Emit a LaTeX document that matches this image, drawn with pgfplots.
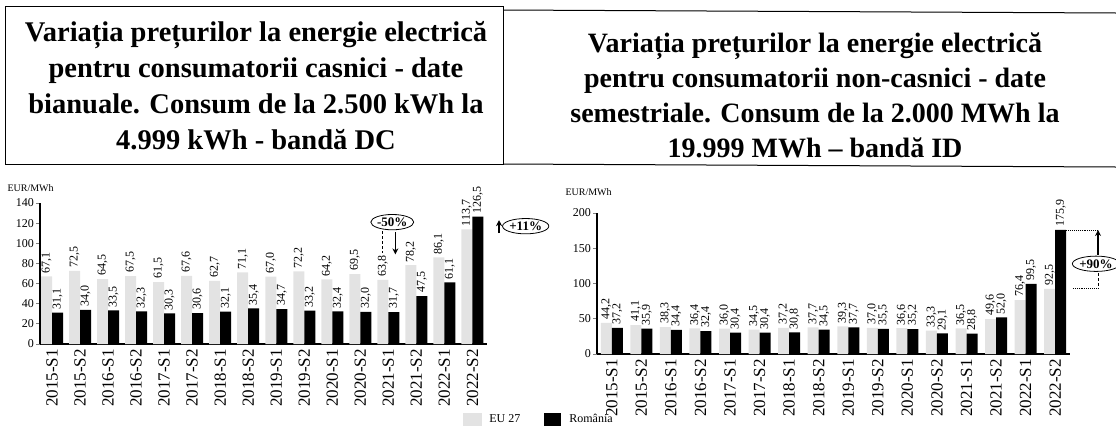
\documentclass[border=0pt]{standalone}
\usepackage{pgfplots}
\pgfplotsset{compat=1.18}
\usepackage{pgfplotstable}
\usepackage{fontspec}
\setmainfont{Liberation Serif}
\usetikzlibrary{shapes.geometric, arrows.meta}
\definecolor{eugray}{gray}{0.89}

% casnici (banda DC), EUR/MWh
\pgfplotstableread{
idx EU RO
0 67.1 31.1
1 72.5 34.0
2 64.5 33.5
3 67.5 32.3
4 61.5 30.3
5 67.6 30.6
6 62.7 32.1
7 71.1 35.4
8 67.0 34.7
9 72.2 33.2
10 64.2 32.4
11 69.5 32.0
12 63.8 31.7
13 78.2 47.5
14 86.1 61.1
15 113.7 126.5
}\casnici

% non-casnici (banda ID), EUR/MWh
\pgfplotstableread{
idx EU RO
0 44.2 37.2
1 41.1 35.9
2 38.3 34.4
3 36.4 32.4
4 36.0 30.4
5 34.5 30.4
6 37.2 30.8
7 37.7 34.5
8 39.3 37.7
9 37.0 35.5
10 36.6 35.2
11 33.3 29.1
12 36.5 28.8
13 49.6 52.0
14 76.4 99.5
15 92.5 175.9
}\noncasnici

\pgfplotsset{
  /pgf/number format/assume math mode=true,
  semestre/.style={
    scale only axis, ybar=0pt, bar width=11pt,
    axis lines*=left, axis line style={line width=1.1pt},
    ymin=0, clip=false,
    xtick={0,...,15},
    xticklabels={2015-S1,2015-S2,2016-S1,2016-S2,2017-S1,2017-S2,2018-S1,2018-S2,
      2019-S1,2019-S2,2020-S1,2020-S2,2021-S1,2021-S2,2022-S1,2022-S2},
    xtick style={draw=none},
    xticklabel style={rotate=90, anchor=east, inner sep=1pt, font=\fontsize{17}{17}\selectfont},
    yticklabel style={font=\fontsize{12}{12}\selectfont, inner sep=2pt},
    ytick style={line width=0.8pt}, tick align=outside, major tick length=4pt,
    nodes near coords={\pgfmathprintnumber[fixed,fixed zerofill,precision=1,use comma]{\pgfplotspointmeta}},
    every node near coord/.append style={rotate=90, anchor=west, inner xsep=3pt, inner ysep=0pt,
      font=\fontsize{12}{12}\selectfont, text=black},
  },
  eubar/.style={fill=eugray, draw=none,
    legend image code/.code={\fill[eugray] (0pt,-6.5pt) rectangle (19pt,6.5pt);}},
  robar/.style={fill=black, draw=none,
    legend image code/.code={\fill[black] (0pt,-6.5pt) rectangle (17pt,6.5pt);}},
}

\begin{document}
\begin{tikzpicture}
\useasboundingbox (0pt,0pt) rectangle (1116pt,-429pt);

% title table
\draw[line width=1pt] (5pt,-6pt) rectangle (503pt,-164pt);
\draw[line width=1pt] (503pt,-10pt) -- (1116pt,-13pt);
\draw[line width=1pt] (503pt,-164pt) -- (1116pt,-167pt);
\node[align=center, font=\bfseries\fontsize{28.5}{36}\selectfont] at (256pt,-86pt)
  {Variația prețurilor la energie electrică\\pentru consumatorii casnici - date\\
   bianuale. Consum de la 2.500 kWh la\\4.999 kWh - bandă DC};
\node[align=center, font=\bfseries\fontsize{28}{35}\selectfont] at (815pt,-95pt)
  {Variația prețurilor la energie electrică\\pentru consumatorii non-casnici - date\\
   semestriale. Consum de la 2.000 MWh la\\19.999 MWh – bandă ID};

\node[anchor=west, font=\fontsize{10}{10}\selectfont] at (4pt,-188pt) {EUR/MWh};
\node[anchor=west, font=\fontsize{10}{10}\selectfont] at (562pt,-192pt) {EUR/MWh};

% left chart
\begin{axis}[semestre, at={(40pt,-344pt)}, anchor=south west,
    width=447pt, height=141pt, xmin=-0.43, xmax=15.52,
    ymax=140, ytick={0,20,...,140},
    legend columns=2,
    legend style={at={(0.94,-0.47)}, anchor=north west, draw=none, fill=none,
      font=\fontsize{12}{12}\selectfont,
      /tikz/every even column/.append style={column sep=22pt}}]
  \addplot[eubar] table[x=idx, y=EU] {\casnici};
  \addplot[robar] table[x=idx, y=RO] {\casnici};
  \legend{\hspace{5pt}EU 27, \hspace{6pt}România}
  \node[draw, ellipse, line width=0.8pt, inner xsep=0pt, inner ysep=1pt,
    font=\bfseries\fontsize{13}{13}\selectfont] at (axis cs:12.14,121) {-50\%};
  \draw[densely dashed, line width=0.6pt] (axis cs:11.8,112) -- (axis cs:11.8,90);
  \draw[-{Stealth[length=6pt,width=6pt]}, line width=1.2pt] (axis cs:12.25,111) -- (axis cs:12.25,89);
  \node[draw, ellipse, line width=0.8pt, inner xsep=0pt, inner ysep=1pt,
    font=\bfseries\fontsize{13}{13}\selectfont] at (axis cs:16.9,117) {+11\%};
  \draw[-{Stealth[length=6pt,width=6pt]}, line width=1.2pt] (axis cs:15.95,110) -- (axis cs:15.95,123);
\end{axis}

% right chart
\begin{axis}[semestre, at={(597pt,-354pt)}, anchor=south west,
    width=473pt, height=141pt, xmin=-0.5, xmax=15.5,
    ymax=200, ytick={0,50,...,200}]
  \addplot[eubar] table[x=idx, y=EU] {\noncasnici};
  \addplot[robar] table[x=idx, y=RO] {\noncasnici};
  \draw[densely dotted, line width=0.9pt] (axis cs:15.25,175.9) -- (axis cs:16.45,175.9);
  \draw[-{Stealth[length=6pt,width=6pt]}, line width=1.2pt] (axis cs:16.45,141) -- (axis cs:16.45,175.9);
  \node[draw, ellipse, line width=0.8pt, inner xsep=0pt, inner ysep=1pt,
    font=\bfseries\fontsize{13}{13}\selectfont] at (axis cs:16.38,128) {+90\%};
  \draw[densely dashed, line width=0.7pt] (axis cs:16.45,115) -- (axis cs:16.45,92.5);
  \draw[densely dotted, line width=0.9pt] (axis cs:15.6,92.5) -- (axis cs:16.45,92.5);
\end{axis}
\end{tikzpicture}
\end{document}
